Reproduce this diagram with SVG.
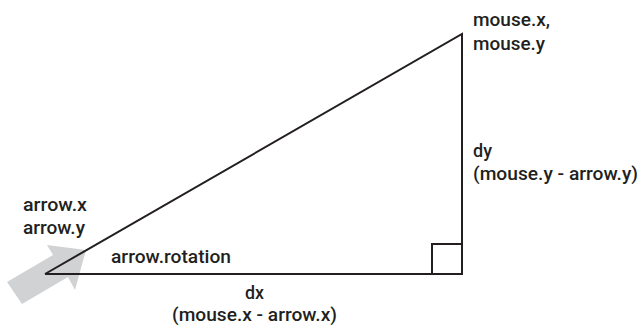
<svg xmlns="http://www.w3.org/2000/svg" width="640" height="327" viewBox="0 0 640 327">
<style>
.t{font-family:Roboto,"Liberation Sans",sans-serif;font-size:19px;font-weight:500;fill:#231f20}
.ln{stroke:#231f20;stroke-width:2;fill:none}
</style>
<rect width="640" height="327" fill="#fff"/>
<g id="arrow-icon">
<polygon points="7,282 53,255 47,245 86,250 75,290 68,277 22,304" fill="#d1d2d3"/>
</g>
<g id="connectors">
<polyline class="ln" points="45,274 462,274 462,34 45,274"/>
<polyline class="ln" points="432,274 432,244 462,244"/>
</g>
<g id="label-mouse">
<text class="t" x="473" y="26" textLength="77" lengthAdjust="spacingAndGlyphs">mouse.x,</text>
<text class="t" x="473" y="50" textLength="72" lengthAdjust="spacingAndGlyphs">mouse.y</text>
</g>
<g id="label-dy">
<text class="t" x="473" y="157" textLength="19" lengthAdjust="spacingAndGlyphs">dy</text>
<text class="t" x="473" y="180" textLength="165" lengthAdjust="spacingAndGlyphs">(mouse.y - arrow.y)</text>
</g>
<g id="label-arrow">
<text class="t" x="23" y="211" textLength="64" lengthAdjust="spacingAndGlyphs">arrow.x</text>
<text class="t" x="23" y="234" textLength="62" lengthAdjust="spacingAndGlyphs">arrow.y</text>
</g>
<g id="label-rotation">
<text class="t" x="111" y="263" textLength="120" lengthAdjust="spacingAndGlyphs">arrow.rotation</text>
</g>
<g id="label-dx">
<text class="t" x="245" y="299" textLength="19" lengthAdjust="spacingAndGlyphs">dx</text>
<text class="t" x="172" y="321" textLength="165" lengthAdjust="spacingAndGlyphs">(mouse.x - arrow.x)</text>
</g>
</svg>
